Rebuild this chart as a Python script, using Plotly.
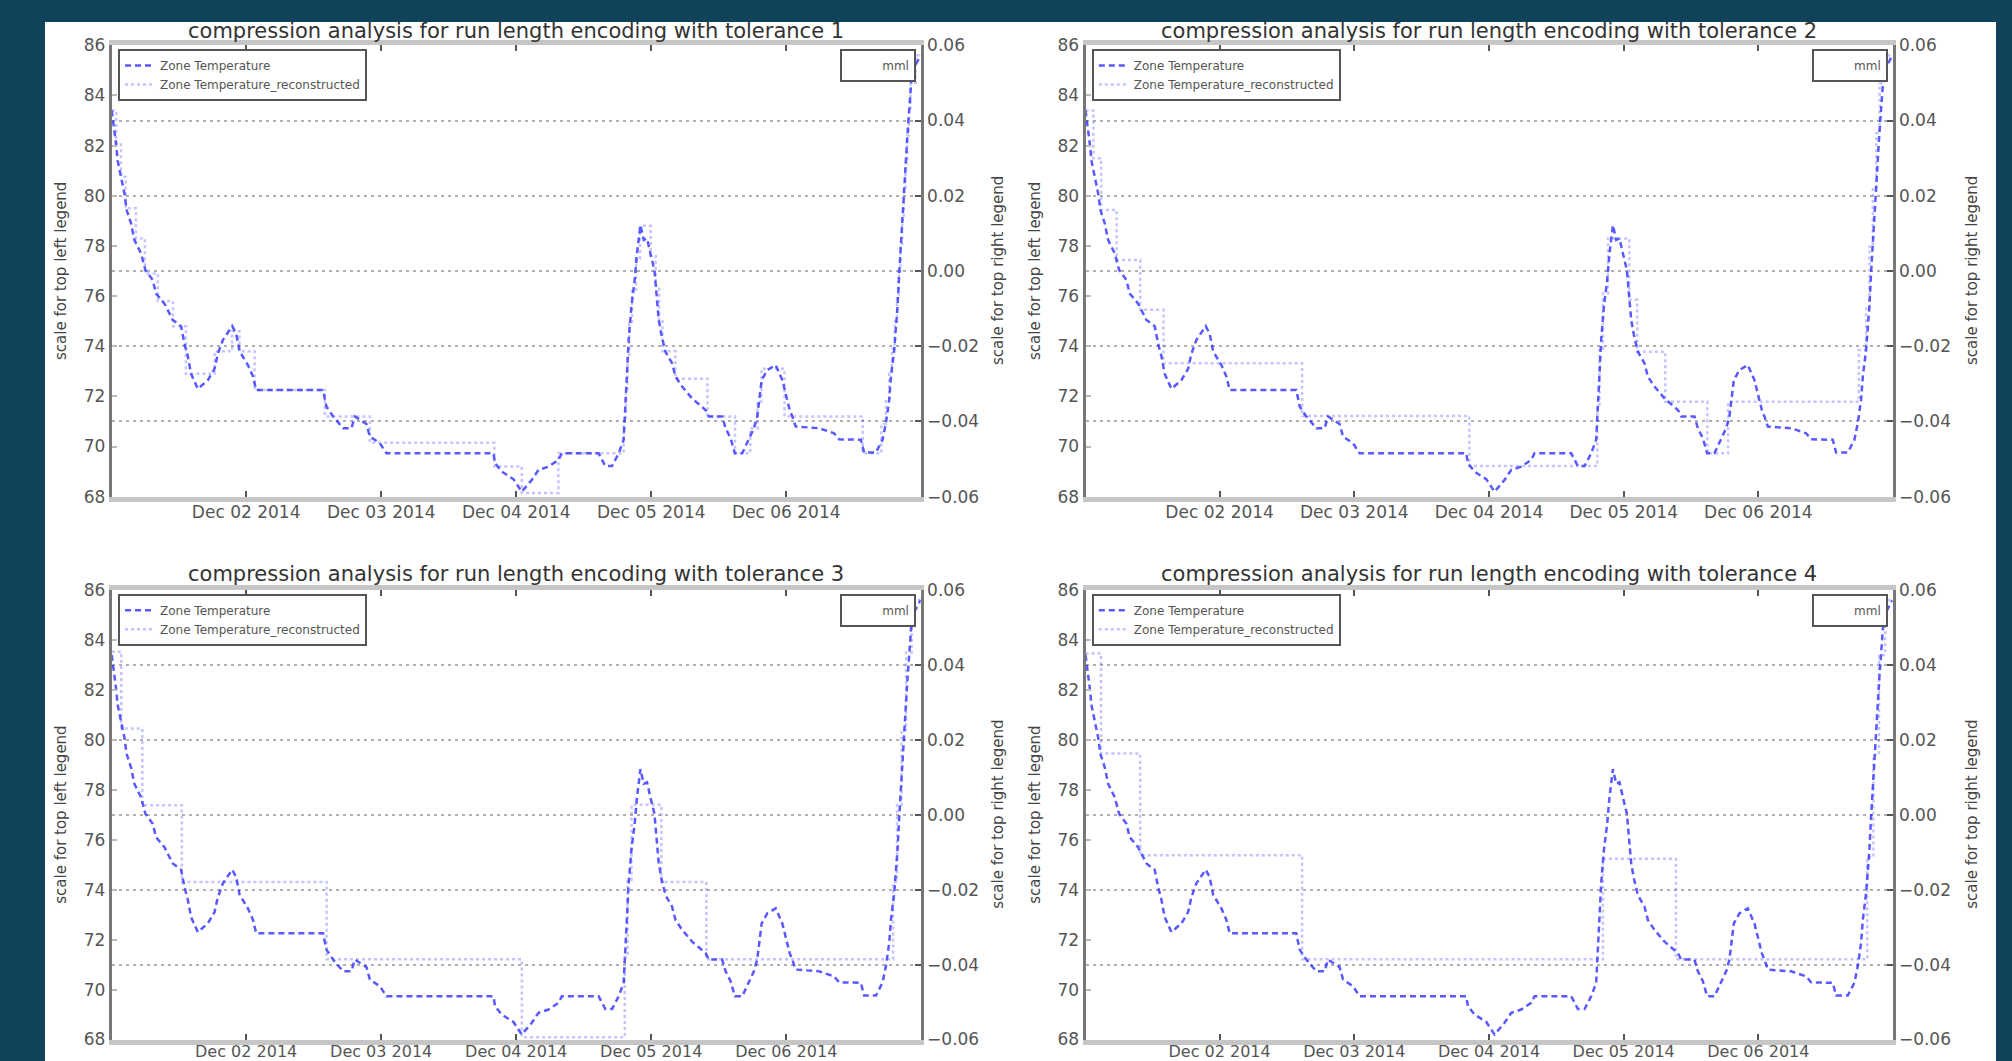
import pandas as pd
import plotly.graph_objects as go

# ---------------- data ----------------
START = "2014-12-01 00:00"   # hours below are counted from this instant

main_hours = [0.1, 0.57, 0.85, 1.16, 1.75, 2.35, 2.76, 3.53, 4.13, 5.31, 6.09, 7.39, 7.98, 9.48,
              10.95, 12.43, 13.04, 13.63, 14.21, 15.41, 17.19, 18.38, 18.97, 19.86, 21.52, 22.23,
              22.83, 24.31, 25.2, 25.79, 37.67, 38.26, 39.45, 41.23, 42.71, 43.32, 45.38, 45.99,
              47.77, 48.94, 67.95, 68.25, 69.43, 71.51, 72.99, 74.77, 75.97, 77.75, 79.53, 80.11,
              86.65, 87.84, 89.03, 90.21, 91.1, 91.4, 91.69, 91.99, 92.47, 93.06, 93.47, 94.08,
              94.67, 95.25, 95.86, 96.57, 97.03, 97.34, 97.82, 98.53, 99.71, 100.31, 101.49, 103.27,
              105.66, 106.24, 108.61, 109.22, 110.11, 110.87, 112.17, 113.06, 114.26, 114.84, 115.15,
              115.63, 116.62, 118.12, 119.3, 120.01, 120.61, 121.08, 121.68, 125.83, 128.5, 129.39,
              133.26, 133.85, 135.93, 137.11, 137.71, 138.3, 138.61, 139.19, 139.5, 139.78, 140.08,
              140.39, 140.67, 140.98, 141.28, 141.56, 141.86, 142.17, 142.35, 143.9]
zone_temperature = [83.4, 82.7, 82.1, 81.4, 80.75, 80.1, 79.43, 78.9, 78.24, 77.7, 77.04, 76.64, 76.1,
                    75.7, 75.05, 74.8, 74.1, 73.6, 72.9, 72.3, 72.65, 73.1, 73.7, 74.25, 74.8, 74.5,
                    73.8, 73.25, 72.8, 72.25, 72.25, 71.6, 71.2, 70.73, 70.73, 71.2, 70.9, 70.4,
                    70.13, 69.73, 69.73, 69.33, 69.0, 68.7, 68.2, 68.67, 69.07, 69.2, 69.47, 69.73,
                    69.73, 69.22, 69.22, 69.73, 70.27, 71.6, 72.92, 74.25, 75.58, 76.64, 77.7, 78.83,
                    78.24, 78.3, 77.7, 77.04, 75.85, 75.05, 74.45, 73.78, 73.32, 72.79, 72.39, 71.92,
                    71.46, 71.2, 71.2, 70.73, 70.33, 69.73, 69.73, 70.13, 70.73, 71.2, 71.86, 72.65,
                    73.05, 73.25, 72.65, 71.99, 71.46, 71.2, 70.8, 70.73, 70.53, 70.29, 70.27, 69.76,
                    69.76, 70.27, 70.93, 71.86, 72.79, 73.85, 74.65, 75.58, 76.9, 77.97, 79.03, 80.36,
                    81.43, 82.49, 83.55, 84.48, 84.95, 85.6]

# reconstructed (run length encoded) series: change points (hours) and held values
rec1_hours = [0.1, 0.9, 1.75, 2.6, 4.4, 6.0, 8.3, 11.0, 13.3, 18.4, 21.5, 22.8, 25.5, 38.0, 46.0,
              68.1, 73.0, 79.5, 91.1, 91.5, 91.8, 92.1, 92.6, 93.3, 94.0, 95.9, 96.8, 97.4, 98.0,
              100.3, 106.0, 110.9, 113.6, 114.9, 115.6, 119.7, 133.6, 136.9, 137.7, 138.3, 138.8,
              139.3, 139.7, 140.0, 140.3, 140.6, 140.9, 141.2, 141.5, 141.8, 142.1, 143.0, 143.9]
rec1_vals = [83.4, 82.1, 80.75, 79.5, 78.3, 76.9, 75.8, 74.8, 72.9, 73.8, 74.6, 73.8, 72.25, 71.2,
             70.15, 69.2, 68.15, 69.73, 71.0, 72.3, 73.6, 74.9, 76.2, 77.5, 78.8, 77.6, 76.4, 75.0,
             73.8, 72.7, 71.2, 69.73, 70.73, 71.8, 73.1, 71.2, 69.73, 70.9, 71.9, 72.9, 73.9, 75.0,
             76.0, 77.0, 78.0, 79.1, 80.2, 81.3, 82.4, 83.5, 84.5, 85.6, 85.6]

rec2_hours = [0.1, 1.5, 2.9, 5.65, 9.85, 14.0, 38.7, 68.5, 91.3, 91.7, 92.3, 93.2, 97.0, 98.4, 103.4,
              110.9, 114.6, 137.9, 139.2, 139.8, 140.4, 141.0, 141.6, 142.2, 143.9]
rec2_vals = [83.4, 81.5, 79.43, 77.44, 75.45, 73.32, 71.22, 69.22, 71.6, 73.9, 76.1, 78.3, 75.85,
             73.78, 71.79, 69.73, 71.79, 73.85, 75.58, 77.97, 80.36, 82.49, 84.48, 85.6, 85.6]

rec3_hours = [0.1, 1.8, 5.55, 12.57, 38.3, 73.0, 91.3, 91.8, 92.5, 97.8, 105.8, 139.0, 139.7, 140.5,
              141.3, 142.3, 143.9]
rec3_vals = [83.53, 80.45, 77.38, 74.31, 71.21, 68.09, 71.3, 74.4, 77.4, 74.31, 71.21, 74.3, 77.4,
             80.4, 83.5, 85.6, 85.6]

rec4_hours = [0.1, 2.86, 9.85, 38.7, 92.3, 105.3, 139.4, 140.5, 141.5, 142.6, 143.9]
rec4_vals = [83.46, 79.45, 75.38, 71.21, 75.24, 71.21, 75.3, 79.4, 83.4, 85.6, 85.6]

tolerances = [1, 2, 3, 4]
reconstructed = [(rec1_hours, rec1_vals), (rec2_hours, rec2_vals),
                 (rec3_hours, rec3_vals), (rec4_hours, rec4_vals)]

mml_hours = [0.1]
mml_vals = [0.0]

x_tick_dates = ["2014-12-02", "2014-12-03", "2014-12-04", "2014-12-05", "2014-12-06"]
left_ticks = [68, 70, 72, 74, 76, 78, 80, 82, 84, 86]
right_ticks = [-0.06, -0.04, -0.02, 0.0, 0.02, 0.04, 0.06]
left_range = [68, 86]
right_range = [-0.06, 0.06]
x_range_hours = [0.1, 143.9]

# ---------------- helpers ----------------
base = pd.Timestamp(START)


def to_time(hours):
    return [base + pd.Timedelta(hours=h) for h in hours]


W, H = 2012, 1061
FONT = "DejaVu Sans"
XDOM = [[111.7 / W, 920.7 / W], [1085.5 / W, 1892.5 / W]]
YDOM = [[1 - 496.7 / H, 1 - 45.3 / H], [1 - 1039.5 / H, 1 - 590 / H]]
X_LABEL_STANDOFF = [-4, -7]
X_LABEL_SIZE = [17, 16]
LEFT_LABEL_X = [61 / W, 1035 / W]
RIGHT_LABEL_X = [998 / W, 1972 / W]
TITLE_Y = [1 - 31 / H, 1 - 574 / H]
TICK_FONT = dict(family=FONT, size=17, color="#555555")

fig = go.Figure()
layout = {}
annotations = []

for k, tol in enumerate(tolerances):
    col, row = k % 2, k // 2
    xa = "x" if k == 0 else f"x{k + 1}"
    yl = "y" if k == 0 else f"y{2 * k + 1}"
    yr = f"y{2 * k + 2}"
    leg_main = "legend" if k == 0 else f"legend{k + 1}"
    leg_mml = f"legend{k + 5}"
    rh, rv = reconstructed[k]

    fig.add_trace(go.Scatter(
        x=to_time(main_hours), y=zone_temperature, xaxis=xa, yaxis=yl,
        name="Zone Temperature", mode="lines", legend=leg_main,
        line=dict(color="rgba(25,25,255,0.72)", width=2.5, dash="6px,4px")))
    fig.add_trace(go.Scatter(
        x=to_time(rh), y=rv, xaxis=xa, yaxis=yl,
        name="Zone Temperature_reconstructed", mode="lines", legend=leg_main,
        line=dict(color="rgba(70,70,255,0.32)", width=2.5, dash="3px,3px", shape="hv")))
    fig.add_trace(go.Scatter(
        x=to_time(mml_hours), y=mml_vals, xaxis=xa, yaxis=yr,
        name="mml", mode="lines", legend=leg_mml,
        line=dict(color="rgba(0,0,0,0)", width=1)))

    xkey = "xaxis" if k == 0 else f"xaxis{k + 1}"
    ylkey = "yaxis" if k == 0 else f"yaxis{2 * k + 1}"
    yrkey = f"yaxis{2 * k + 2}"

    layout[xkey] = dict(
        domain=XDOM[col], anchor=yl, type="date", automargin=False,
        range=[to_time([x_range_hours[0]])[0], to_time([x_range_hours[1]])[0]],
        tickvals=x_tick_dates, tickformat="%b %d %Y",
        ticklabelstandoff=X_LABEL_STANDOFF[row],
        ticks="inside", ticklen=6, tickwidth=2, tickcolor="#555555",
        showline=True, linecolor="#c6c6c6", linewidth=5, mirror="ticks",
        showgrid=False, zeroline=False,
        tickfont=dict(family=FONT, size=X_LABEL_SIZE[row], color="#555555"))
    layout[ylkey] = dict(
        domain=YDOM[row], anchor=xa, range=left_range, tickvals=left_ticks,
        automargin=False,
        ticks="inside", ticklen=5, tickwidth=2, tickcolor="#bbbbbb",
        showline=True, linecolor="#777777", linewidth=3,
        showgrid=False, zeroline=False, tickfont=TICK_FONT)
    layout[yrkey] = dict(
        overlaying=yl, anchor=xa, side="right", range=right_range,
        tickvals=right_ticks, tickformat=".2f", automargin=False,
        ticks="inside", ticklen=6, tickwidth=2, tickcolor="#555555",
        showline=True, linecolor="#777777", linewidth=3,
        showgrid=True, gridcolor="#b0b0b0", gridwidth=2, griddash="3px,4px",
        zeroline=False, tickfont=TICK_FONT)

    # legends
    xl0 = XDOM[col][0] + 6.3 / W
    xr0 = XDOM[col][1] - 4.5 / W
    ytop = YDOM[row][1] - 3.7 / H
    leg_style = dict(bgcolor="white", bordercolor="#555555", borderwidth=2,
                     font=dict(family=FONT, size=12, color="#555555"),
                     itemwidth=30, tracegroupgap=0, yanchor="top")
    layout[leg_main] = dict(x=xl0, y=ytop, xanchor="left", **leg_style)
    layout[leg_mml] = dict(x=xr0, y=ytop, xanchor="right", **leg_style)

    # titles
    xc = (XDOM[col][0] + XDOM[col][1]) / 2
    yc = (YDOM[row][0] + YDOM[row][1]) / 2
    annotations.append(dict(
        text=f"compression analysis for run length encoding with tolerance {tol}",
        x=xc, y=TITLE_Y[row], xref="paper", yref="paper", showarrow=False,
        xanchor="center", yanchor="middle",
        font=dict(family=FONT, size=21, color="#333333")))
    annotations.append(dict(
        text="scale for top left legend", x=LEFT_LABEL_X[col], y=yc,
        xref="paper", yref="paper", showarrow=False, textangle=-90,
        xanchor="center", yanchor="middle",
        font=dict(family=FONT, size=15, color="#444444")))
    annotations.append(dict(
        text="scale for top right legend", x=RIGHT_LABEL_X[col], y=yc,
        xref="paper", yref="paper", showarrow=False, textangle=-90,
        xanchor="center", yanchor="middle",
        font=dict(family=FONT, size=15, color="#444444")))

fig.update_layout(
    width=W, height=H,
    margin=dict(l=0, r=0, t=0, b=0, pad=0, autoexpand=False),
    paper_bgcolor="#10435a",
    plot_bgcolor="white",
    showlegend=True,
    annotations=annotations,
    shapes=[dict(type="rect", xref="paper", yref="paper",
                 x0=45 / W, x1=1996 / W, y0=0, y1=1 - 22 / H,
                 fillcolor="white", line=dict(width=0), layer="below")],
    **layout,
)

fig.write_html("out.html")
